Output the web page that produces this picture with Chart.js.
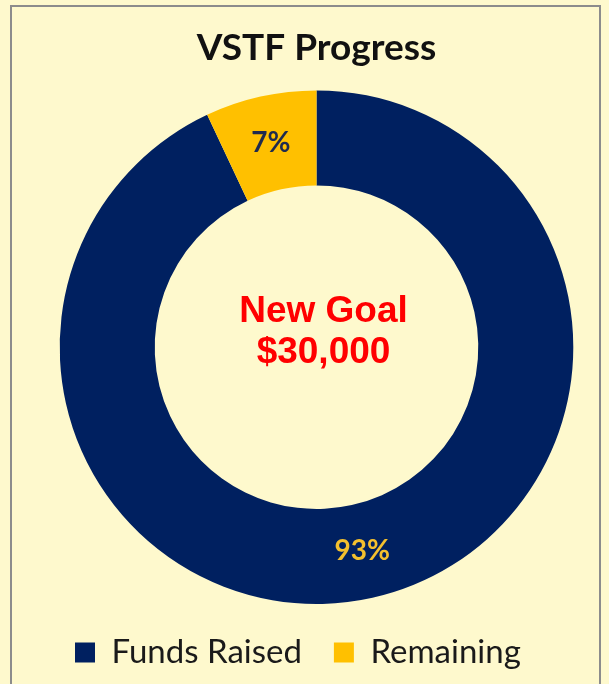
<!DOCTYPE html>
<html>
<head>
<meta charset="utf-8">
<script src="https://cdn.jsdelivr.net/npm/chart.js@4.4.1/dist/chart.umd.min.js"></script>
<style>
  html, body { margin: 0; padding: 0; background: #fef9cd; }
  .frame {
    position: absolute; left: 10px; top: 5px; width: 591px; height: 720px;
    border: 2px solid #8c8c8c; box-sizing: border-box;
  }
  .wrap { position: absolute; left: 0; top: 0; width: 609px; height: 684px; }
</style>
</head>
<body>
<div class="frame"></div>
<div class="wrap"><canvas id="chart" width="609" height="684"></canvas></div>
<script>
const categories = ['Funds Raised', 'Remaining'];
const shares = [93, 7];
const sliceColors = ['#002060', '#ffc000'];
const labelColors = ['#f4c02e', '#1f2b4f'];
const centerLines = ['New Goal', '$30,000'];

// Percent labels on each ring slice
const sliceLabelPlugin = {
  id: 'sliceLabels',
  afterDatasetsDraw(chart) {
    const { ctx } = chart;
    const meta = chart.getDatasetMeta(0);
    ctx.save();
    ctx.font = 'bold 28px Lato, sans-serif';
    ctx.textAlign = 'center';
    ctx.textBaseline = 'middle';
    meta.data.forEach((arc, i) => {
      const pos = arc.tooltipPosition();
      ctx.fillStyle = labelColors[i];
      ctx.fillText(shares[i] + '%', pos.x, pos.y);
    });
    ctx.restore();
  }
};

// Goal text in the hole
const centerTextPlugin = {
  id: 'centerText',
  afterDatasetsDraw(chart) {
    const { ctx } = chart;
    const arc = chart.getDatasetMeta(0).data[0];
    ctx.save();
    ctx.font = 'bold 37px "Liberation Sans", Arial, sans-serif';
    ctx.fillStyle = '#ff0000';
    ctx.textAlign = 'center';
    ctx.textBaseline = 'alphabetic';
    ctx.fillText(centerLines[0], arc.x + 7, arc.y - 25);
    ctx.fillText(centerLines[1], arc.x + 7, arc.y + 16);
    ctx.restore();
  }
};

new Chart(document.getElementById('chart'), {
  type: 'doughnut',
  data: {
    labels: categories,
    datasets: [{
      data: shares,
      backgroundColor: sliceColors,
      borderWidth: 0,
      hoverOffset: 0
    }]
  },
  options: {
    responsive: false,
    animation: false,
    cutout: '63%',
    layout: { padding: { left: 43, right: 19, top: 0, bottom: 5 } },
    plugins: {
      title: {
        display: true,
        text: 'VSTF Progress',
        color: '#111',
        font: { family: 'Lato, sans-serif', size: 37, weight: 'bold', lineHeight: 1.2 },
        padding: { top: 26, bottom: 20 }
      },
      legend: {
        position: 'bottom',
        align: 'start',
        labels: {
          color: '#1a1a1a',
          font: { family: 'Lato, sans-serif', size: 33 },
          boxWidth: 20,
          boxHeight: 20,
          padding: 32
        }
      },
      tooltip: { enabled: false }
    }
  },
  plugins: [sliceLabelPlugin, centerTextPlugin]
});
</script>
</body>
</html>
